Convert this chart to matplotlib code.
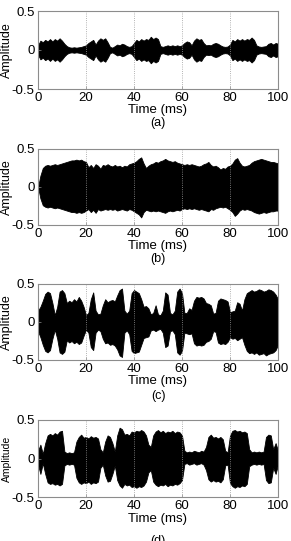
import numpy as np
import matplotlib
matplotlib.use("Agg")
import matplotlib.pyplot as plt

plt.rcParams["font.family"] = ["Liberation Sans", "DejaVu Sans"]

# tiempo en ms (muestreo de la envolvente cada 1 ms)
tiempo = np.arange(0, 101)

# (a) envolvente superior, la inferior es simetrica
env_a = [0.06, 0.12, 0.10, 0.13, 0.11, 0.14, 0.11, 0.14, 0.12, 0.15,
         0.12, 0.08, 0.05, 0.035, 0.03, 0.035, 0.03, 0.035, 0.04, 0.05,
         0.06, 0.09, 0.11, 0.13, 0.07, 0.12, 0.15, 0.13, 0.15, 0.10,
         0.04, 0.03, 0.05, 0.07, 0.06, 0.08, 0.07, 0.05, 0.04, 0.05,
         0.09, 0.13, 0.11, 0.14, 0.12, 0.14, 0.13, 0.17, 0.14, 0.16,
         0.14, 0.05, 0.04, 0.05, 0.06, 0.05, 0.06, 0.05, 0.06, 0.05,
         0.06, 0.09, 0.11, 0.10, 0.06, 0.12, 0.15, 0.13, 0.14, 0.09,
         0.06, 0.065, 0.06, 0.08, 0.09, 0.08, 0.06, 0.045, 0.04, 0.045,
         0.07, 0.13, 0.11, 0.14, 0.12, 0.14, 0.12, 0.14, 0.13, 0.16,
         0.13, 0.06, 0.045, 0.04, 0.045, 0.05, 0.08, 0.09, 0.07, 0.09,
         0.08]

# (b)
sup_b = [0.0, 0.15, 0.25, 0.28, 0.29, 0.28, 0.29, 0.30, 0.29, 0.30,
         0.31, 0.32, 0.33, 0.34, 0.35, 0.35, 0.36, 0.35, 0.36, 0.34,
         0.33, 0.26, 0.29, 0.25, 0.30, 0.28, 0.24, 0.29, 0.28, 0.30,
         0.28, 0.27, 0.29, 0.27, 0.28, 0.26, 0.28, 0.27, 0.30, 0.31,
         0.32, 0.34, 0.37, 0.39, 0.31, 0.25, 0.28, 0.30, 0.31, 0.33,
         0.32, 0.34, 0.35, 0.37, 0.35, 0.34, 0.33, 0.34, 0.32, 0.31,
         0.30, 0.29, 0.30, 0.29, 0.30, 0.29, 0.28, 0.27, 0.28, 0.30,
         0.31, 0.33, 0.29, 0.27, 0.28, 0.26, 0.23, 0.25, 0.24, 0.27,
         0.28, 0.31, 0.36, 0.38, 0.32, 0.28, 0.27, 0.28, 0.29, 0.32,
         0.34, 0.35, 0.36, 0.37, 0.36, 0.35, 0.34, 0.33, 0.33, 0.32,
         0.31]
inf_b = [0.0, -0.15, -0.24, -0.26, -0.27, -0.26, -0.27, -0.28, -0.27, -0.28,
         -0.29, -0.30, -0.31, -0.32, -0.33, -0.33, -0.34, -0.33, -0.34, -0.33,
         -0.31, -0.29, -0.33, -0.30, -0.34, -0.29, -0.31, -0.30, -0.29, -0.30,
         -0.29, -0.30, -0.29, -0.31, -0.30, -0.29, -0.30, -0.31, -0.29, -0.30,
         -0.32, -0.34, -0.36, -0.40, -0.33, -0.30, -0.31, -0.32, -0.31, -0.32,
         -0.31, -0.32, -0.33, -0.34, -0.32, -0.31, -0.32, -0.31, -0.30, -0.31,
         -0.29, -0.28, -0.29, -0.28, -0.29, -0.28, -0.29, -0.30, -0.29, -0.30,
         -0.31, -0.32, -0.29, -0.30, -0.28, -0.27, -0.26, -0.27, -0.26, -0.28,
         -0.30, -0.33, -0.38, -0.35, -0.31, -0.29, -0.30, -0.29, -0.30, -0.31,
         -0.33, -0.34, -0.35, -0.34, -0.33, -0.34, -0.33, -0.32, -0.32, -0.31,
         -0.31]

# (c)
sup_c = [0.15, 0.20, 0.28, 0.37, 0.40, 0.38, 0.25, 0.09, 0.20, 0.40,
         0.42, 0.38, 0.25, 0.28, 0.26, 0.30, 0.27, 0.33, 0.28, 0.20,
         0.09, 0.12, 0.30, 0.39, 0.15, 0.10, 0.11, 0.22, 0.30, 0.26,
         0.28, 0.29, 0.27, 0.35, 0.42, 0.44, 0.15, 0.11, 0.15, 0.38,
         0.42, 0.40, 0.38, 0.30, 0.20, 0.21, 0.18, 0.10, 0.12, 0.22,
         0.10, 0.09, 0.15, 0.39, 0.36, 0.12, 0.10, 0.15, 0.40, 0.44,
         0.38, 0.12, 0.12, 0.18, 0.16, 0.28, 0.33, 0.32, 0.33, 0.31,
         0.25, 0.24, 0.22, 0.11, 0.12, 0.28, 0.31, 0.30, 0.29, 0.27,
         0.13, 0.14, 0.15, 0.26, 0.24, 0.15, 0.30, 0.38, 0.40, 0.42,
         0.40, 0.41, 0.43, 0.42, 0.40, 0.41, 0.43, 0.42, 0.40, 0.36,
         0.30]
inf_c = [-0.12, -0.20, -0.30, -0.38, -0.40, -0.37, -0.22, -0.10, -0.22, -0.40,
         -0.42, -0.39, -0.24, -0.27, -0.25, -0.28, -0.26, -0.29, -0.27, -0.18,
         -0.10, -0.14, -0.33, -0.37, -0.14, -0.10, -0.12, -0.22, -0.28, -0.27,
         -0.30, -0.29, -0.31, -0.36, -0.44, -0.46, -0.14, -0.11, -0.16, -0.38,
         -0.41, -0.40, -0.39, -0.30, -0.21, -0.20, -0.19, -0.11, -0.10, -0.12,
         -0.10, -0.09, -0.14, -0.33, -0.31, -0.12, -0.11, -0.16, -0.40, -0.43,
         -0.38, -0.14, -0.15, -0.16, -0.15, -0.28, -0.31, -0.30, -0.31, -0.30,
         -0.26, -0.25, -0.22, -0.12, -0.13, -0.27, -0.29, -0.28, -0.29, -0.26,
         -0.20, -0.22, -0.21, -0.24, -0.22, -0.20, -0.30, -0.38, -0.41, -0.40,
         -0.42, -0.40, -0.43, -0.42, -0.41, -0.44, -0.42, -0.41, -0.40, -0.37,
         -0.30]

# (d)
sup_d = [0.10, 0.18, 0.06, 0.20, 0.30, 0.32, 0.30, 0.33, 0.31, 0.35,
         0.36, 0.09, 0.07, 0.08, 0.07, 0.08, 0.22, 0.28, 0.31, 0.27,
         0.28, 0.26, 0.29, 0.27, 0.28, 0.26, 0.12, 0.08, 0.22, 0.30,
         0.28, 0.20, 0.09, 0.30, 0.40, 0.38, 0.31, 0.32, 0.30, 0.35,
         0.34, 0.36, 0.35, 0.37, 0.35, 0.30, 0.18, 0.15, 0.30, 0.35,
         0.37, 0.34, 0.36, 0.33, 0.35, 0.34, 0.36, 0.33, 0.35, 0.34,
         0.30, 0.10, 0.08, 0.09, 0.08, 0.10, 0.09, 0.08, 0.10, 0.09,
         0.15, 0.28, 0.31, 0.27, 0.28, 0.26, 0.28, 0.25, 0.10, 0.08,
         0.30, 0.36, 0.37, 0.35, 0.36, 0.34, 0.35, 0.33, 0.12, 0.08,
         0.09, 0.08, 0.09, 0.08, 0.09, 0.28, 0.31, 0.30, 0.12, 0.20,
         0.10]
inf_d = [-0.08, -0.20, -0.06, -0.20, -0.31, -0.33, -0.32, -0.34, -0.33, -0.35,
         -0.33, -0.09, -0.07, -0.08, -0.07, -0.08, -0.25, -0.31, -0.33, -0.31,
         -0.32, -0.30, -0.33, -0.31, -0.32, -0.30, -0.12, -0.08, -0.22, -0.30,
         -0.29, -0.20, -0.09, -0.28, -0.35, -0.38, -0.33, -0.35, -0.34, -0.37,
         -0.36, -0.38, -0.36, -0.37, -0.35, -0.30, -0.18, -0.15, -0.30, -0.34,
         -0.36, -0.34, -0.35, -0.33, -0.36, -0.34, -0.35, -0.33, -0.34, -0.32,
         -0.28, -0.07, -0.06, -0.08, -0.07, -0.06, -0.08, -0.07, -0.06, -0.08,
         -0.15, -0.27, -0.30, -0.28, -0.30, -0.29, -0.31, -0.27, -0.09, -0.08,
         -0.32, -0.36, -0.38, -0.36, -0.37, -0.35, -0.36, -0.33, -0.10, -0.08,
         -0.07, -0.08, -0.07, -0.08, -0.07, -0.28, -0.32, -0.31, -0.12, -0.20,
         -0.08]

etiquetas = ["(a)", "(b)", "(c)", "(d)"]
x_ticks = [0, 20, 40, 60, 80, 100]
y_ticks = [-0.5, 0, 0.5]
y_ticklabels = ["-0.5", "0", "0.5"]

superiores = [env_a, sup_b, sup_c, sup_d]
inferiores = [[-v for v in env_a], inf_b, inf_c, inf_d]

# posiciones de los ejes en pixeles (arriba, abajo) dentro de la figura 291x541
W, H = 291, 541
filas = [(11, 89), (149, 225), (284, 360), (420, 497)]
capt_off = [34, 34, 36, 44]
time_off = [21, 21, 21, 22]

fig = plt.figure(figsize=(W / 100, H / 100), dpi=100)
gris = "#8c8c8c"

for i in range(4):
    top, bot = filas[i]
    ax = fig.add_axes([38 / W, 1 - bot / H, 240 / W, (bot - top) / H])
    ax.fill_between(tiempo, inferiores[i], superiores[i],
                    color="k", edgecolor="k", linewidth=0.6)
    ax.set_xlim(0, 100)
    ax.set_ylim(-0.5, 0.5)
    ax.set_xticks(x_ticks)
    ax.set_yticks(y_ticks)
    ax.set_yticklabels(y_ticklabels)
    ax.grid(axis="x", color="#9a9a9a", linestyle=":", linewidth=0.6)
    for s in ax.spines.values():
        s.set_color(gris)
        s.set_linewidth(0.8)
    ax.tick_params(direction="in", length=2, width=0.5, color=gris,
                   labelsize=9.5, pad=2.5)
    alto = bot - top
    tam_amp = 9 if i < 3 else 7.5
    ax.text(-31 / 240, 0.5, "Amplitude", rotation=90, ha="center",
            va="center", fontsize=tam_amp, transform=ax.transAxes)
    ax.text(0.5, -time_off[i] / alto, "Time (ms)", ha="center", va="center",
            fontsize=9.5, transform=ax.transAxes)
    ax.text(0.5, -capt_off[i] / alto, etiquetas[i], ha="center", va="center",
            fontsize=9, transform=ax.transAxes)

fig.savefig("out.png", dpi=100)
